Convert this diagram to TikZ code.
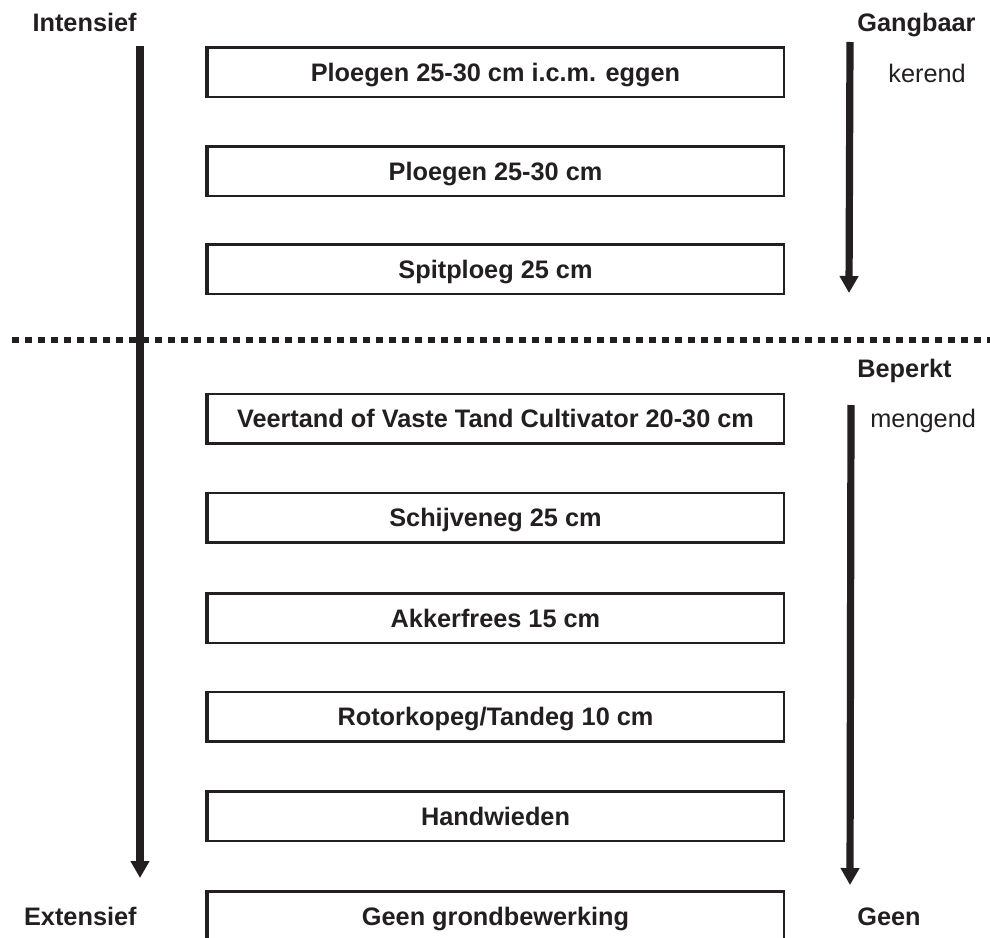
\documentclass[tikz,border=0pt]{standalone}
\usepackage{fontspec}
\setmainfont{Liberation Sans}
\usetikzlibrary{arrows.meta, positioning}
\definecolor{inkblack}{RGB}{35,31,32}

\tikzset{
	bewerking/.style={draw=inkblack, line width=1.25pt, minimum width=288.25pt,
		minimum height=24.75pt, inner sep=0pt, text height=9pt, text depth=0pt,
		text=inkblack, font=\fontsize{12.65pt}{15pt}\selectfont\bfseries},
	kantlabel/.style={inner sep=0pt, text=inkblack,
		font=\fontsize{12.65pt}{15pt}\selectfont\bfseries},
	soortlabel/.style={inner sep=0pt, text=inkblack,
		font=\fontsize{12.65pt}{15pt}\selectfont},
	pijl/.style={draw=inkblack, line width=3.6pt, -{Triangle[width=9pt,length=8.5pt]}},
	scheiding/.style={draw=inkblack, line width=3pt, dash pattern=on 3.5pt off 3pt}
}

\begin{document}
\begin{tikzpicture}[x=0.5pt,y=-0.5pt]
	\useasboundingbox (0,0) rectangle (990,937);
	\clip (0,0) rectangle (990,937);
	\fill[white] (0,0) rectangle (990,937);

	% bewerkingen
	\node[bewerking] (b1) at (495.5,72)    {Ploegen 25-30 cm i.c.m. eggen};
	\node[bewerking] (b2) at (495.5,171)   {Ploegen 25-30 cm};
	\node[bewerking] (b3) at (495.5,269)   {Spitploeg 25 cm};
	\node[bewerking] (b4) at (495.5,418.5) {Veertand of Vaste Tand Cultivator 20-30 cm};
	\node[bewerking] (b5) at (495.5,517.5) {Schijveneg 25 cm};
	\node[bewerking] (b6) at (495.5,618)   {Akkerfrees 15 cm};
	\node[bewerking] (b7) at (495.5,716.5) {Rotorkopeg/Tandeg 10 cm};
	\node[bewerking] (b8) at (495.5,816)   {Handwieden};
	\node[bewerking] (b9) at (495.5,916)   {Geen grondbewerking};
	\foreach \b in {b1,b2,b3,b4,b5,b6,b7,b8,b9}
		\draw[inkblack, line width=2.25pt] ([xshift=0.5pt]\b.north west) -- ([xshift=0.5pt]\b.south west);

	% labels
	\node[kantlabel, anchor=base east] (intensief) at (137,32)  {Intensief};
	\node[kantlabel, anchor=base east] (extensief) at (137,925) {Extensief};
	\node[kantlabel, anchor=base west] (gangbaar)  at (857,32)  {Gangbaar};
	\node[soortlabel, anchor=base west] (kerend)   at (888,82)  {kerend};
	\node[kantlabel, anchor=base west] (beperkt)   at (857,377) {Beperkt};
	\node[soortlabel, anchor=base west] (mengend)  at (870,427) {mengend};
	\node[kantlabel, anchor=base west] (geen)      at (857,925) {Geen};

	% pijlen
	\coordinate (intTop) at (140,46);
	\coordinate (intBot) at (140,878);
	\coordinate (kerTop) at (850,42);
	\coordinate (kerBot) at (849,293);
	\coordinate (menTop) at (851,405);
	\coordinate (menBot) at (850,885);
	\draw[pijl] (intTop) -- (intBot);
	\draw[pijl] (kerTop) -- (kerBot);
	\draw[pijl] (menTop) -- (menBot);

	% scheidingslijn
	\coordinate (scheidL) at (12,340);
	\coordinate (scheidR) at (995,340);
	\draw[scheiding] (scheidL) -- (scheidR);
\end{tikzpicture}
\end{document}
